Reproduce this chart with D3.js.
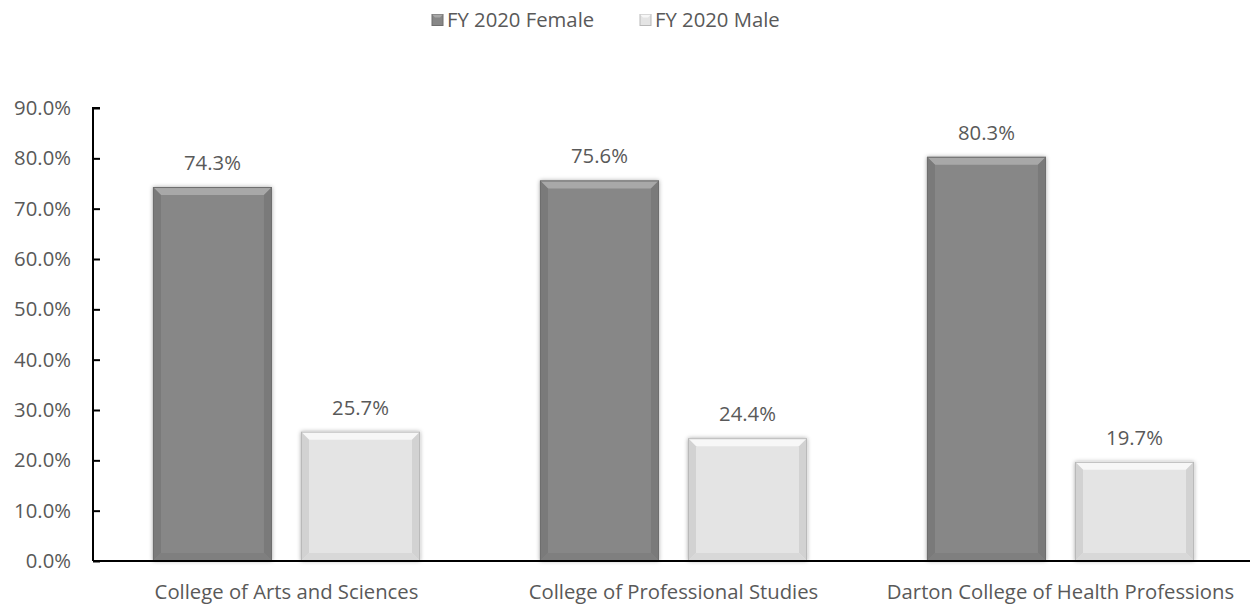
<!DOCTYPE html>
<html><head><meta charset="utf-8">
<script src="https://cdn.jsdelivr.net/npm/d3@7"></script>
<style>body{margin:0;background:#fff;} text{font-family:"Open Sans",Lato,sans-serif;fill:#595959;}</style>
</head><body>
<svg id="c" width="1250" height="606"></svg>
<script>
const categories = ["College of Arts and Sciences","College of Professional Studies","Darton College of Health Professions"];
const seriesNames = ["FY 2020 Female","FY 2020 Male"];
const female = [74.3, 75.6, 80.3];
const male = [25.7, 24.4, 19.7];
const yTicks = [0,10,20,30,40,50,60,70,80,90];

const FS = 20.3;
const svg = d3.select("#c");
const x0 = 93, x1 = 1254, yTop = 108, yBot = 561;
const x = d3.scaleBand().domain(categories).range([x0, x1]).paddingInner(0).paddingOuter(0);
const xs = d3.scaleBand().domain(seriesNames).range([0, x.bandwidth()]).paddingInner(0.196).paddingOuter(0.405);
const y = d3.scaleLinear().domain([0, 90]).range([yBot, yTop]);

const defs = svg.append("defs");
const f = defs.append("filter").attr("id","sh").attr("x","-10%").attr("y","-10%").attr("width","120%").attr("height","120%");
f.append("feDropShadow").attr("dx",0).attr("dy",0).attr("stdDeviation",2).attr("flood-color","#000").attr("flood-opacity",0.35);

const colors = {"FY 2020 Female":{base:"#878787",top:"#a8a8a8",side:"#7a7a7a",bot:"#7f7f7f",edge:"#6e6e6e"},
                "FY 2020 Male":{base:"#e4e4e4",top:"#f7f7f7",side:"#d2d2d2",bot:"#d8d8d8",edge:"#b9b9b9"}};

const data = [];
categories.forEach((c,i)=>{ data.push({c, s:seriesNames[0], v:female[i]}); data.push({c, s:seriesNames[1], v:male[i]}); });

const g = svg.append("g");
data.forEach(d=>{
  const bx = x(d.c)+xs(d.s), bw = xs.bandwidth(), by = y(d.v), bh = yBot - by;
  const col = colors[d.s], b = 8;
  const gg = g.append("g");
  gg.append("rect").attr("x",bx).attr("y",by).attr("width",bw).attr("height",bh).attr("fill",col.base).attr("filter","url(#sh)");
  gg.append("polygon").attr("points",[[bx,by],[bx+bw,by],[bx+bw-b,by+b],[bx+b,by+b]].join(" ")).attr("fill",col.top);
  gg.append("polygon").attr("points",[[bx,by],[bx+b,by+b],[bx+b,yBot-b],[bx,yBot]].join(" ")).attr("fill",col.side);
  gg.append("polygon").attr("points",[[bx+bw,by],[bx+bw-b,by+b],[bx+bw-b,yBot-b],[bx+bw,yBot]].join(" ")).attr("fill",col.side);
  gg.append("polygon").attr("points",[[bx,yBot],[bx+b,yBot-b],[bx+bw-b,yBot-b],[bx+bw,yBot]].join(" ")).attr("fill",col.bot);
  gg.append("rect").attr("x",bx+0.5).attr("y",by+0.5).attr("width",bw-1).attr("height",bh-1).attr("fill","none").attr("stroke",col.edge).attr("stroke-width",1);
  svg.append("text").attr("x",bx+bw/2).attr("y",by-17).attr("text-anchor","middle").attr("font-size",FS).text(d.v.toFixed(1)+"%");
});

const ya = svg.append("g").attr("transform",`translate(${x0},0)`)
  .call(d3.axisRight(y).tickValues(yTicks).tickSize(7).tickFormat(""));
ya.selectAll("path,line").attr("stroke","#000").attr("stroke-width",2);
ya.select("path").attr("d",`M7,${yTop}H0V${yBot}`);
svg.append("g").selectAll("text").data(yTicks).join("text")
  .attr("x",71).attr("y",d=>y(d)).attr("dy","0.35em").attr("text-anchor","end").attr("font-size",FS)
  .text(d=>d.toFixed(1)+"%");

const xa = svg.append("g").attr("transform",`translate(0,${yBot})`).call(d3.axisBottom(x).tickSize(0));
xa.select("path").attr("stroke","#000").attr("stroke-width",2).attr("d",`M${x0},0H1250`);
xa.selectAll("text").attr("font-size",FS).attr("dy","0").attr("y",38).style("font-family","'Open Sans', Lato, sans-serif").attr("fill","#595959");

const leg = svg.append("g");
const lx = [432, 640];
seriesNames.forEach((s,i)=>{
  const col = colors[s];
  leg.append("rect").attr("x",lx[i]).attr("y",14.5).attr("width",11).attr("height",11).attr("fill",col.base).attr("stroke",col.edge);
  leg.append("polygon").attr("points",[[lx[i],14.5],[lx[i]+11,14.5],[lx[i]+8,17.5],[lx[i]+3,17.5]].join(" ")).attr("fill",col.top);
  leg.append("text").attr("x",lx[i]+15).attr("y",20).attr("dy","0.35em").attr("font-size",FS).text(s);
});
</script>
</body></html>
